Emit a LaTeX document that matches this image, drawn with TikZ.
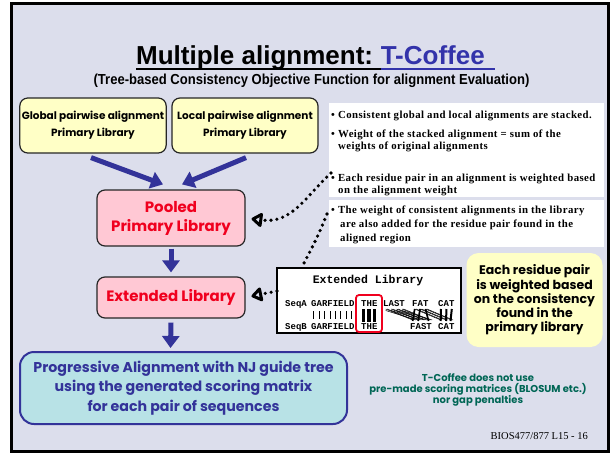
\documentclass[tikz,border=0pt]{standalone}
\usepackage{fontspec}
\setmainfont{Liberation Serif}
\newfontfamily\pfont{Liberation Serif}[LetterSpace=4]
\newfontfamily\hfont{Liberation Sans}
\newfontfamily\hcond{Liberation Sans}[FakeStretch=0.9]
\newfontfamily\comic{Poppins}
\newfontfamily\mono{Liberation Mono}
\usetikzlibrary{arrows.meta,calc}
\definecolor{bgc}{RGB}{220,222,236}
\definecolor{ylw}{RGB}{255,255,198}
\definecolor{pnk}{RGB}{255,200,212}
\definecolor{redt}{RGB}{240,0,30}
\definecolor{navy}{RGB}{51,51,153}
\definecolor{tblue}{RGB}{51,51,170}
\definecolor{cyanb}{RGB}{184,226,230}
\definecolor{greent}{RGB}{0,102,85}
\tikzset{
  ybox/.style={draw=black!85, line width=1.2pt, fill=ylw, rounded corners=8pt, minimum width=146pt, minimum height=55pt, align=center, inner sep=2pt, font=\comic\bfseries\fontsize{10.5}{17}\selectfont},
  pbox/.style={draw=black!85, line width=1.2pt, fill=pnk, rounded corners=8pt, minimum width=148pt, align=center, inner sep=2pt, text=redt, font=\comic\bfseries\fontsize{15}{19}\selectfont},
  bigarrow/.style={navy, line width=5pt, -{Triangle[length=12pt,width=17pt]}},
  dots/.style={line width=3.6pt, dash pattern=on 0pt off 6pt, line cap=round, -{Triangle[open,length=12pt,width=16pt,line width=3pt,round]}},
  dotsplain/.style={line width=3.6pt, dash pattern=on 0pt off 6pt, line cap=round},
  ptxt/.style={anchor=base west, inner sep=0pt, font=\pfont\bfseries\fontsize{10.8}{12}\selectfont},
  mtxt/.style={anchor=base west, inner sep=0pt, font=\mono\bfseries\fontsize{9}{10}\selectfont},
  gtxt/.style={anchor=base, inner sep=0pt, text=greent, font=\comic\bfseries\fontsize{10}{11}\selectfont},
  panel/.style={fill=white, draw=none}
}
\begin{document}
\begin{tikzpicture}[x=1pt,y=-1pt]
\useasboundingbox (0,0) rectangle (611,453);
\fill[white] (0,0) rectangle (611,453);
% slide frame
\filldraw[fill=bgc, draw=black, line width=3pt] (11,3) rectangle (608,451);

% title
\node[anchor=base west, inner sep=0pt, font=\hfont\bfseries\fontsize{26}{30}\selectfont] (t1) at (136,64) {Multiple alignment:\kern0.28em};
\node[anchor=base west, inner sep=0pt, font=\hfont\bfseries\fontsize{26}{30}\selectfont, text=tblue] (t2) at (t1.base east) {T-Coffee\kern0.4em};
\draw[black, line width=2pt] ($(t1.base west)+(0,5)$) -- ($(t1.base east)+(0,5)$);
\draw[tblue, line width=2pt] ($(t2.base west)+(0,5)$) -- ($(t2.base east)+(0,5)$);
\node[anchor=base, inner sep=0pt, font=\hcond\bfseries\fontsize{14.5}{16}\selectfont] (sub) at (311.5,84.5) {(Tree-based Consistency Objective Function for alignment Evaluation)};

% left flow
\node[ybox] (glob) at (93,125.5) {Global pairwise alignment\\Primary Library};
\node[ybox] (loc) at (245,125.5) {Local pairwise alignment\\Primary Library};
\node[pbox, minimum height=56pt] (pool) at (171,218) {Pooled\\Primary Library};
\node[pbox, minimum height=41pt] (ext) at (171,297.5) {Extended Library};
\node[draw=navy, line width=2pt, fill=cyanb, rounded corners=14pt, minimum width=327pt, minimum height=72pt, align=center, inner sep=2pt, text=navy, font=\comic\bfseries\fontsize{14.2}{19.5}\selectfont] (prog) at (183.5,388) {Progressive Alignment with NJ guide tree\\using the generated scoring matrix\\for each pair of sequences};

\draw[bigarrow] ($(glob.south)+(-2,4)$) -- ($(pool.north)+(-8,-5)$);
\draw[bigarrow] ($(loc.south)+(1,4)$) -- ($(pool.north)+(11,-5)$);
\draw[bigarrow] ($(pool.south)+(0,2)$) -- ($(ext.north)+(0,-4)$);
\draw[bigarrow] ($(ext.south)+(0,4)$) -- ($(prog.north)+(-13,-3)$);

% right panels
\fill[panel] (329,103) rectangle (604,197);
\fill[panel] (329,199.5) rectangle (604,247);
\node[ptxt] (b1) at (331,118) {• Consistent global and local alignments are stacked.};
\node[ptxt] (b2) at (331,137) {• Weight of the stacked alignment = sum of the};
\node[ptxt] (b2b) at (338,149) {weights of original alignments};
\node[ptxt] (b3) at (331,181) {• Each residue pair in an alignment is weighted based};
\node[ptxt] (b3b) at (338,193) {on the alignment weight};
\node[ptxt] (b4) at (331,213) {• The weight of consistent alignments in the library};
\node[ptxt] (b4b) at (340,227) {are also added for the residue pair found in the};
\node[ptxt] (b4c) at (340,241) {aligned region};

% extended library picture
\node[draw=black, line width=1.3pt, fill=white, minimum width=184pt, minimum height=65pt, inner sep=0pt] (extimg) at (369,300.5) {};
\node[anchor=base, inner sep=0pt, font=\mono\bfseries\fontsize{11.5}{12}\selectfont] (eh) at (368,283) {Extended Library};
\node[mtxt] (sa) at (285,306) {SeqA};
\node[mtxt] (ga) at (311,306) {GARFIELD};
\node[mtxt] (tha) at (361,306) {THE};
\node[mtxt] (la) at (383,306) {LAST};
\node[mtxt] (fa) at (412,306) {FAT};
\node[mtxt] (ca) at (438,306) {CAT};
\node[mtxt] (sb) at (285,329) {SeqB};
\node[mtxt] (gb) at (311,329) {GARFIELD};
\node[mtxt] (thb) at (361,329) {THE};
\node[mtxt] (fb) at (410,329) {FAST};
\node[mtxt] (cb) at (438,329) {CAT};
\foreach \i in {0,...,7} \draw[line width=0.8pt] (313.7+5.4*\i,311) -- (313.7+5.4*\i,319);
\foreach \i in {0,...,2} \draw[line width=3.3pt] (363.7+5.4*\i,309) -- (363.7+5.4*\i,322);
\foreach \i in {0,...,3} {
  \draw[line width=0.5pt] (385.7+5.4*\i,309) -- (412.7+5.4*\i,320);
  \draw[line width=0.5pt] (387.2+5.4*\i,309) -- (414.2+5.4*\i,320);
  \draw[line width=0.5pt] (385.7+5.4*\i,310.5) -- (416+5.4*\i,320);
}
\foreach \i in {0,...,2} {
  \draw[line width=0.5pt] (414.7+5.4*\i,309) -- (440.7+5.4*\i,320);
  \draw[line width=0.5pt] (416.2+5.4*\i,309) -- (442.2+5.4*\i,320);
}
\draw[line width=1.7pt] (414.7,309) -- (412.7,321);
\draw[line width=1.7pt] (420.1,309) -- (418.1,321);
\draw[line width=1.7pt] (425.5,309) -- (428.5,321);
\draw[line width=2pt] (441,309) -- (440.7,321);
\draw[line width=2pt] (446.4,309) -- (446.1,321);
\draw[line width=2pt] (451.8,309) -- (450.5,321);
\draw[draw=redt, line width=1.8pt, rounded corners=3pt] (356,295) rectangle (382,332);

% dotted connectors
\coordinate (d1s) at (331,173);
\coordinate (d2s) at (327,214);
\coordinate (d2e) at (302,267);
\coordinate (d3s) at (277,291);
\draw[dots, shorten >=6pt] (d1s) .. controls (305,197) and (292,224) .. (pool.east);
\draw[dotsplain] (d2s) .. controls (318,236) .. (d2e);
\draw[dots, shorten >=6pt] (d3s) -- (ext.east);

% note
\node[fill=ylw, rounded corners=12pt, minimum width=136pt, minimum height=94pt, align=center, inner sep=2pt, font=\comic\bfseries\fontsize{12.5}{14.3}\selectfont] (note) at (534.5,300) {Each residue pair\\is weighted based\\on the consistency\\found in the\\primary library};

% green remark
\node[gtxt] (g1) at (478,381.5) {T-Coffee does not use};
\node[gtxt] (g2) at (478,392.5) {pre-made scoring matrices (BLOSUM etc.)};
\node[gtxt] (g3) at (478,403.5) {nor gap penalties};

% footer
\node[anchor=base east, inner sep=0pt, font=\fontsize{10.5}{12}\selectfont] (foot) at (588,439) {BIOS477/877 L15 - 16};
\end{tikzpicture}
\end{document}
